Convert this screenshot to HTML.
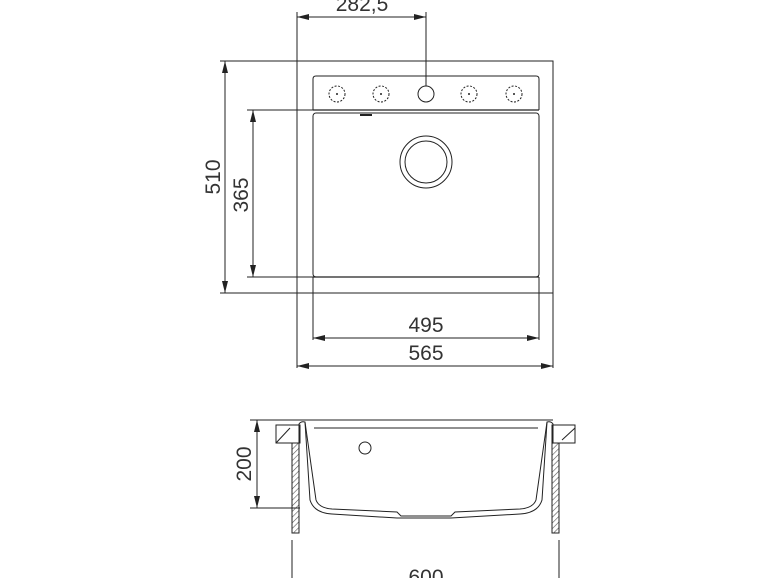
<!DOCTYPE html>
<html><head><meta charset="utf-8"><style>
html,body{margin:0;padding:0;background:#fff;}
svg{display:block;}
text{font-family:"Liberation Sans",sans-serif;fill:#333;font-size:21px;}
</style></head><body>
<svg width="770" height="578" viewBox="0 0 770 578" xmlns="http://www.w3.org/2000/svg">
<defs>
<marker id="a" viewBox="0 0 12 6" refX="12" refY="3" markerWidth="12" markerHeight="6" orient="auto-start-reverse" markerUnits="userSpaceOnUse"><path d="M0,0 L12,3 L0,6 Z" fill="#222"/></marker>
<pattern id="h" width="4" height="4" patternUnits="userSpaceOnUse" patternTransform="rotate(45)"><line x1="0" y1="0" x2="0" y2="4" stroke="#555" stroke-width="1.2"/></pattern>
</defs>
<g stroke="#222" stroke-width="1" fill="none">
<path d="M297,61 H553 V293 H297"/>
<line x1="297" y1="12" x2="297" y2="368"/>
<line x1="553" y1="293" x2="553" y2="368"/>
<line x1="220" y1="61" x2="297" y2="61"/>
<line x1="220" y1="293" x2="297" y2="293"/>
<path d="M313,110 V79 Q313,76 316,76 H536 Q539,76 539,79 V110"/>
<line x1="313" y1="110" x2="539" y2="110" stroke-width="1.3"/>
<rect x="313" y="113" width="226" height="164" rx="3"/>
<line x1="313" y1="277" x2="539" y2="277" stroke-width="1.3"/>
<line x1="313" y1="277" x2="313" y2="340"/>
<line x1="539" y1="277" x2="539" y2="340"/>
<line x1="360" y1="115" x2="372" y2="115" stroke-width="2"/>
<g stroke-dasharray="2,1.5">
<circle cx="337" cy="94" r="8"/><circle cx="381" cy="94" r="8"/><circle cx="469" cy="94" r="8"/><circle cx="514" cy="94" r="8"/>
</g>
<g fill="#222" stroke="none"><circle cx="337" cy="94" r="1"/><circle cx="381" cy="94" r="1"/><circle cx="469" cy="94" r="1"/><circle cx="514" cy="94" r="1"/></g>
<circle cx="426" cy="94" r="8"/>
<line x1="426" y1="12" x2="426" y2="86"/>
<circle cx="426" cy="162" r="26"/>
<circle cx="426" cy="162" r="21"/>
<line x1="297" y1="17" x2="426" y2="17" marker-start="url(#a)" marker-end="url(#a)"/>
<line x1="225" y1="61" x2="225" y2="293" marker-start="url(#a)" marker-end="url(#a)"/>
<line x1="247" y1="110" x2="313" y2="110"/>
<line x1="247" y1="277" x2="313" y2="277"/>
<line x1="253" y1="110" x2="253" y2="277" marker-start="url(#a)" marker-end="url(#a)"/>
<line x1="313" y1="338" x2="539" y2="338" marker-start="url(#a)" marker-end="url(#a)"/>
<line x1="297" y1="366" x2="553" y2="366" marker-start="url(#a)" marker-end="url(#a)"/>
<line x1="297" y1="420" x2="553" y2="420"/>
<line x1="250" y1="420" x2="297" y2="420"/>
<line x1="314" y1="428" x2="538" y2="428"/>
<rect x="276" y="425" width="24" height="18"/>
<line x1="276" y1="443" x2="290" y2="428"/>
<rect x="552" y="425" width="23" height="18"/>
<line x1="562" y1="440" x2="575" y2="428"/>
<rect x="292" y="443" width="7" height="90" fill="url(#h)"/>
<rect x="552" y="443" width="7" height="90" fill="url(#h)"/>
<path d="M299,443 V424 Q301,421 305,422 L316,500 Q319,508 332,509 L397,512 L401,516 L451,516 L455,512 L520,509 Q533,508 536,500 L547,422 Q551,421 553,424 V443"/>
<path d="M305,422 L310,500 Q314,513 332,514 L397,518 L451,518 L520,514 Q538,513 542,500 L547,422"/>
<circle cx="365" cy="448" r="6"/>
<line x1="250" y1="508" x2="300" y2="508"/>
<line x1="257" y1="420" x2="257" y2="508" marker-start="url(#a)" marker-end="url(#a)"/>
<line x1="292" y1="540" x2="292" y2="578"/>
<line x1="559" y1="540" x2="559" y2="578"/>
</g>
<text x="362" y="11" text-anchor="middle">282,5</text>
<text x="426" y="332" text-anchor="middle">495</text>
<text x="426" y="360" text-anchor="middle">565</text>
<text x="426" y="584" text-anchor="middle">600</text>
<text transform="translate(220,177) rotate(-90)" text-anchor="middle">510</text>
<text transform="translate(248,195) rotate(-90)" text-anchor="middle">365</text>
<text transform="translate(251,464) rotate(-90)" text-anchor="middle">200</text>
</svg>
</body></html>
